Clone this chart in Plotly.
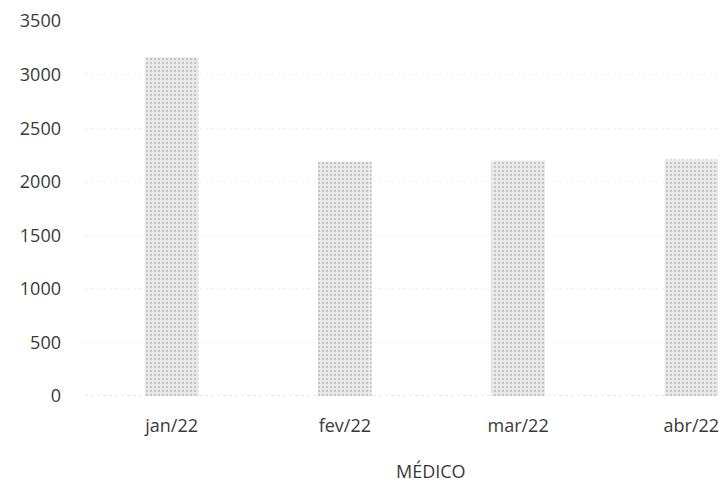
import plotly.graph_objects as go

categories = ["jan/22", "fev/22", "mar/22", "abr/22"]
values = [3163, 2189, 2199, 2208]
y_ticks = [0, 500, 1000, 1500, 2000, 2500, 3000, 3500]
x_title = "MÉDICO"

font_family = "Open Sans"
text_color = "#3a3a3a"

fig = go.Figure()
fig.add_trace(go.Bar(
    x=list(range(len(categories))),
    y=values,
    marker=dict(
        color="#e8e8e8",
        line=dict(width=0),
        pattern=dict(shape=".", fgcolor="#a0a0a0", bgcolor="#ebebeb", size=4, solidity=0.3),
    ),
    hoverinfo="skip",
))

# page has an 8px body margin, so the figure is sized to fit inside the window
fig.update_layout(
    width=720, height=476,
    margin=dict(l=77, r=2, t=13, b=88, autoexpand=False),
    paper_bgcolor="white", plot_bgcolor="white",
    bargap=0.69,
    showlegend=False,
    font=dict(family=font_family, size=18, color=text_color),
)
fig.update_xaxes(
    range=[-0.5, 3.2],
    tickmode="array",
    tickvals=list(range(len(categories))),
    ticktext=categories,
    showgrid=False, zeroline=False, showline=False,
    ticks="", ticklabelstandoff=17, automargin=False,
    tickfont=dict(family=font_family, size=18, color=text_color),
)
fig.update_yaxes(
    range=[0, 3501],
    tickmode="array",
    tickvals=y_ticks,
    showgrid=True, gridcolor="#f3f3f3", griddash="dot", gridwidth=1,
    zeroline=False,
    showline=False, ticks="", ticklabelstandoff=23,
    ticklabeloverflow="allow", automargin=False,
    tickfont=dict(family=font_family, size=18, color=text_color),
)
fig.add_shape(
    type="line", xref="paper", yref="y", x0=0, x1=1, y0=0, y1=0,
    line=dict(color="#cfcfcf", width=1, dash="dot"), layer="below",
)
fig.add_annotation(
    text=x_title, x=1.5, xref="x", y=-0.2, yref="paper",
    xanchor="center", yanchor="middle", showarrow=False,
    font=dict(family=font_family, size=18, color=text_color),
)

fig.write_html("out.html")
